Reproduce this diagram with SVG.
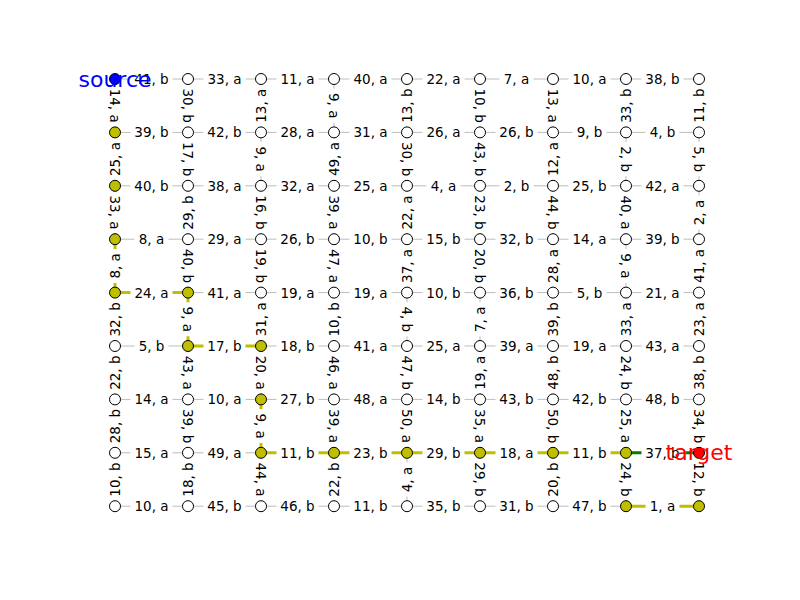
<svg xmlns="http://www.w3.org/2000/svg" xmlns:xlink="http://www.w3.org/1999/xlink" width="800" height="600" viewBox="0 0 800 600">
<style>
.e{stroke:#bdbdbd;stroke-width:1;fill:none}
.p{stroke:#bfbf00;stroke-width:3;fill:none}
.g{stroke:#008000;stroke-width:3;fill:none}
.lb{fill:#fff;stroke:none}
.l text{font-family:"DejaVu Sans",sans-serif;font-size:13.5px;fill:#000;text-anchor:middle;dominant-baseline:central}
.n circle{stroke:#000;stroke-width:1}
.w{fill:#fff}.y{fill:#bfbf00}
.st{font-family:"DejaVu Sans",sans-serif;font-size:22px;text-anchor:middle;dominant-baseline:central}
</style>
<defs>
<rect id="b2" class="lb" x="-21" y="-9.5" width="42" height="19" rx="4"/>
<rect id="b1" class="lb" x="-17" y="-9.5" width="34" height="19" rx="4"/>
</defs>
<g id="edges">
<g class="e">
<path d="M115 79H188M188 79H261M261 79H334M334 79H407M407 79H480M480 79H553M553 79H626M626 79H699"/>
<path d="M115 132.4H188M188 132.4H261M261 132.4H334M334 132.4H407M407 132.4H480M480 132.4H553M553 132.4H626M626 132.4H699"/>
<path d="M115 185.8H188M188 185.8H261M261 185.8H334M334 185.8H407M407 185.8H480M480 185.8H553M553 185.8H626M626 185.8H699"/>
<path d="M115 239.2H188M188 239.2H261M261 239.2H334M334 239.2H407M407 239.2H480M480 239.2H553M553 239.2H626M626 239.2H699"/>
<path d="M115 292.6H188M188 292.6H261M261 292.6H334M334 292.6H407M407 292.6H480M480 292.6H553M553 292.6H626M626 292.6H699"/>
<path d="M115 346H188M188 346H261M261 346H334M334 346H407M407 346H480M480 346H553M553 346H626M626 346H699"/>
<path d="M115 399.4H188M188 399.4H261M261 399.4H334M334 399.4H407M407 399.4H480M480 399.4H553M553 399.4H626M626 399.4H699"/>
<path d="M115 452.8H188M188 452.8H261M261 452.8H334M334 452.8H407M407 452.8H480M480 452.8H553M553 452.8H626M626 452.8H699"/>
<path d="M115 506.2H188M188 506.2H261M261 506.2H334M334 506.2H407M407 506.2H480M480 506.2H553M553 506.2H626M626 506.2H699"/>
<path d="M115 79V132.4M115 132.4V185.8M115 185.8V239.2M115 239.2V292.6M115 292.6V346M115 346V399.4M115 399.4V452.8M115 452.8V506.2"/>
<path d="M188 79V132.4M188 132.4V185.8M188 185.8V239.2M188 239.2V292.6M188 292.6V346M188 346V399.4M188 399.4V452.8M188 452.8V506.2"/>
<path d="M261 79V132.4M261 132.4V185.8M261 185.8V239.2M261 239.2V292.6M261 292.6V346M261 346V399.4M261 399.4V452.8M261 452.8V506.2"/>
<path d="M334 79V132.4M334 132.4V185.8M334 185.8V239.2M334 239.2V292.6M334 292.6V346M334 346V399.4M334 399.4V452.8M334 452.8V506.2"/>
<path d="M407 79V132.4M407 132.4V185.8M407 185.8V239.2M407 239.2V292.6M407 292.6V346M407 346V399.4M407 399.4V452.8M407 452.8V506.2"/>
<path d="M480 79V132.4M480 132.4V185.8M480 185.8V239.2M480 239.2V292.6M480 292.6V346M480 346V399.4M480 399.4V452.8M480 452.8V506.2"/>
<path d="M553 79V132.4M553 132.4V185.8M553 185.8V239.2M553 239.2V292.6M553 292.6V346M553 346V399.4M553 399.4V452.8M553 452.8V506.2"/>
<path d="M626 79V132.4M626 132.4V185.8M626 185.8V239.2M626 239.2V292.6M626 292.6V346M626 346V399.4M626 399.4V452.8M626 452.8V506.2"/>
<path d="M699 79V132.4M699 132.4V185.8M699 185.8V239.2M699 239.2V292.6M699 292.6V346M699 346V399.4M699 399.4V452.8M699 452.8V506.2"/>
</g>
<g class="p">
<path d="M115 79V132.4"/><path d="M115 132.4V185.8"/><path d="M115 185.8V239.2"/><path d="M115 239.2V292.6"/>
<path d="M115 292.6H188"/><path d="M188 292.6V346"/><path d="M188 346H261"/>
<path d="M261 346V399.4"/><path d="M261 399.4V452.8"/>
<path d="M261 452.8H334"/><path d="M334 452.8H407"/><path d="M407 452.8H480"/><path d="M480 452.8H553"/><path d="M553 452.8H626"/>
<path d="M626 452.8V506.2"/><path d="M626 506.2H699"/><path d="M699 506.2V452.8"/>
</g>
<path class="g" d="M626 452.8H699"/>
</g>
<g id="edge-labels" class="l">
<g transform="translate(151.5,79)"><use href="#b2"/><text>41, b</text></g>
<g transform="translate(224.5,79)"><use href="#b2"/><text>33, a</text></g>
<g transform="translate(297.5,79)"><use href="#b2"/><text>11, a</text></g>
<g transform="translate(370.5,79)"><use href="#b2"/><text>40, a</text></g>
<g transform="translate(443.5,79)"><use href="#b2"/><text>22, a</text></g>
<g transform="translate(516.5,79)"><use href="#b1"/><text>7, a</text></g>
<g transform="translate(589.5,79)"><use href="#b2"/><text>10, a</text></g>
<g transform="translate(662.5,79)"><use href="#b2"/><text>38, b</text></g>
<g transform="translate(151.5,132.4)"><use href="#b2"/><text>39, b</text></g>
<g transform="translate(224.5,132.4)"><use href="#b2"/><text>42, b</text></g>
<g transform="translate(297.5,132.4)"><use href="#b2"/><text>28, a</text></g>
<g transform="translate(370.5,132.4)"><use href="#b2"/><text>31, a</text></g>
<g transform="translate(443.5,132.4)"><use href="#b2"/><text>26, a</text></g>
<g transform="translate(516.5,132.4)"><use href="#b2"/><text>26, b</text></g>
<g transform="translate(589.5,132.4)"><use href="#b1"/><text>9, b</text></g>
<g transform="translate(662.5,132.4)"><use href="#b1"/><text>4, b</text></g>
<g transform="translate(151.5,185.8)"><use href="#b2"/><text>40, b</text></g>
<g transform="translate(224.5,185.8)"><use href="#b2"/><text>38, a</text></g>
<g transform="translate(297.5,185.8)"><use href="#b2"/><text>32, a</text></g>
<g transform="translate(370.5,185.8)"><use href="#b2"/><text>25, a</text></g>
<g transform="translate(443.5,185.8)"><use href="#b1"/><text>4, a</text></g>
<g transform="translate(516.5,185.8)"><use href="#b1"/><text>2, b</text></g>
<g transform="translate(589.5,185.8)"><use href="#b2"/><text>25, b</text></g>
<g transform="translate(662.5,185.8)"><use href="#b2"/><text>42, a</text></g>
<g transform="translate(151.5,239.2)"><use href="#b1"/><text>8, a</text></g>
<g transform="translate(224.5,239.2)"><use href="#b2"/><text>29, a</text></g>
<g transform="translate(297.5,239.2)"><use href="#b2"/><text>26, b</text></g>
<g transform="translate(370.5,239.2)"><use href="#b2"/><text>10, b</text></g>
<g transform="translate(443.5,239.2)"><use href="#b2"/><text>15, b</text></g>
<g transform="translate(516.5,239.2)"><use href="#b2"/><text>32, b</text></g>
<g transform="translate(589.5,239.2)"><use href="#b2"/><text>14, a</text></g>
<g transform="translate(662.5,239.2)"><use href="#b2"/><text>39, b</text></g>
<g transform="translate(151.5,292.6)"><use href="#b2"/><text>24, a</text></g>
<g transform="translate(224.5,292.6)"><use href="#b2"/><text>41, a</text></g>
<g transform="translate(297.5,292.6)"><use href="#b2"/><text>19, a</text></g>
<g transform="translate(370.5,292.6)"><use href="#b2"/><text>19, a</text></g>
<g transform="translate(443.5,292.6)"><use href="#b2"/><text>10, b</text></g>
<g transform="translate(516.5,292.6)"><use href="#b2"/><text>36, b</text></g>
<g transform="translate(589.5,292.6)"><use href="#b1"/><text>5, b</text></g>
<g transform="translate(662.5,292.6)"><use href="#b2"/><text>21, a</text></g>
<g transform="translate(151.5,346)"><use href="#b1"/><text>5, b</text></g>
<g transform="translate(224.5,346)"><use href="#b2"/><text>17, b</text></g>
<g transform="translate(297.5,346)"><use href="#b2"/><text>18, b</text></g>
<g transform="translate(370.5,346)"><use href="#b2"/><text>41, a</text></g>
<g transform="translate(443.5,346)"><use href="#b2"/><text>25, a</text></g>
<g transform="translate(516.5,346)"><use href="#b2"/><text>39, a</text></g>
<g transform="translate(589.5,346)"><use href="#b2"/><text>19, a</text></g>
<g transform="translate(662.5,346)"><use href="#b2"/><text>43, a</text></g>
<g transform="translate(151.5,399.4)"><use href="#b2"/><text>14, a</text></g>
<g transform="translate(224.5,399.4)"><use href="#b2"/><text>10, a</text></g>
<g transform="translate(297.5,399.4)"><use href="#b2"/><text>27, b</text></g>
<g transform="translate(370.5,399.4)"><use href="#b2"/><text>48, a</text></g>
<g transform="translate(443.5,399.4)"><use href="#b2"/><text>14, b</text></g>
<g transform="translate(516.5,399.4)"><use href="#b2"/><text>43, b</text></g>
<g transform="translate(589.5,399.4)"><use href="#b2"/><text>42, b</text></g>
<g transform="translate(662.5,399.4)"><use href="#b2"/><text>48, b</text></g>
<g transform="translate(151.5,452.8)"><use href="#b2"/><text>15, a</text></g>
<g transform="translate(224.5,452.8)"><use href="#b2"/><text>49, a</text></g>
<g transform="translate(297.5,452.8)"><use href="#b2"/><text>11, b</text></g>
<g transform="translate(370.5,452.8)"><use href="#b2"/><text>23, b</text></g>
<g transform="translate(443.5,452.8)"><use href="#b2"/><text>29, b</text></g>
<g transform="translate(516.5,452.8)"><use href="#b2"/><text>18, a</text></g>
<g transform="translate(589.5,452.8)"><use href="#b2"/><text>11, b</text></g>
<g transform="translate(662.5,452.8)"><use href="#b2"/><text>37, b</text></g>
<g transform="translate(151.5,506.2)"><use href="#b2"/><text>10, a</text></g>
<g transform="translate(224.5,506.2)"><use href="#b2"/><text>45, b</text></g>
<g transform="translate(297.5,506.2)"><use href="#b2"/><text>46, b</text></g>
<g transform="translate(370.5,506.2)"><use href="#b2"/><text>11, b</text></g>
<g transform="translate(443.5,506.2)"><use href="#b2"/><text>35, b</text></g>
<g transform="translate(516.5,506.2)"><use href="#b2"/><text>31, b</text></g>
<g transform="translate(589.5,506.2)"><use href="#b2"/><text>47, b</text></g>
<g transform="translate(662.5,506.2)"><use href="#b1"/><text>1, a</text></g>

<g transform="translate(115,105.7) rotate(90)"><use href="#b2"/><text>14, a</text></g>
<g transform="translate(115,159.1) rotate(-90)"><use href="#b2"/><text>25, a</text></g>
<g transform="translate(115,212.5) rotate(90)"><use href="#b2"/><text>33, a</text></g>
<g transform="translate(115,265.9) rotate(-90)"><use href="#b1"/><text>8, a</text></g>
<g transform="translate(115,319.3) rotate(-90)"><use href="#b2"/><text>32, b</text></g>
<g transform="translate(115,372.7) rotate(-90)"><use href="#b2"/><text>22, b</text></g>
<g transform="translate(115,426.1) rotate(-90)"><use href="#b2"/><text>28, b</text></g>
<g transform="translate(115,479.5) rotate(-90)"><use href="#b2"/><text>10, b</text></g>

<g transform="translate(188,105.7) rotate(90)"><use href="#b2"/><text>30, b</text></g>
<g transform="translate(188,159.1) rotate(90)"><use href="#b2"/><text>17, b</text></g>
<g transform="translate(188,212.5) rotate(-90)"><use href="#b2"/><text>29, b</text></g>
<g transform="translate(188,265.9) rotate(90)"><use href="#b2"/><text>40, b</text></g>
<g transform="translate(188,319.3) rotate(90)"><use href="#b1"/><text>9, a</text></g>
<g transform="translate(188,372.7) rotate(90)"><use href="#b2"/><text>43, a</text></g>
<g transform="translate(188,426.1) rotate(90)"><use href="#b2"/><text>39, b</text></g>
<g transform="translate(188,479.5) rotate(-90)"><use href="#b2"/><text>18, b</text></g>

<g transform="translate(261,105.7) rotate(-90)"><use href="#b2"/><text>13, a</text></g>
<g transform="translate(261,159.1) rotate(90)"><use href="#b1"/><text>9, a</text></g>
<g transform="translate(261,212.5) rotate(90)"><use href="#b2"/><text>16, b</text></g>
<g transform="translate(261,265.9) rotate(90)"><use href="#b2"/><text>19, b</text></g>
<g transform="translate(261,319.3) rotate(-90)"><use href="#b2"/><text>31, a</text></g>
<g transform="translate(261,372.7) rotate(90)"><use href="#b2"/><text>20, a</text></g>
<g transform="translate(261,426.1) rotate(90)"><use href="#b1"/><text>9, a</text></g>
<g transform="translate(261,479.5) rotate(90)"><use href="#b2"/><text>44, a</text></g>

<g transform="translate(334,105.7) rotate(90)"><use href="#b1"/><text>9, a</text></g>
<g transform="translate(334,159.1) rotate(-90)"><use href="#b2"/><text>49, a</text></g>
<g transform="translate(334,212.5) rotate(90)"><use href="#b2"/><text>39, a</text></g>
<g transform="translate(334,265.9) rotate(90)"><use href="#b2"/><text>47, a</text></g>
<g transform="translate(334,319.3) rotate(-90)"><use href="#b2"/><text>10, b</text></g>
<g transform="translate(334,372.7) rotate(90)"><use href="#b2"/><text>46, a</text></g>
<g transform="translate(334,426.1) rotate(90)"><use href="#b2"/><text>39, a</text></g>
<g transform="translate(334,479.5) rotate(-90)"><use href="#b2"/><text>22, b</text></g>

<g transform="translate(407,105.7) rotate(-90)"><use href="#b2"/><text>13, b</text></g>
<g transform="translate(407,159.1) rotate(90)"><use href="#b2"/><text>30, b</text></g>
<g transform="translate(407,212.5) rotate(-90)"><use href="#b2"/><text>22, a</text></g>
<g transform="translate(407,265.9) rotate(-90)"><use href="#b2"/><text>37, a</text></g>
<g transform="translate(407,319.3) rotate(90)"><use href="#b1"/><text>4, b</text></g>
<g transform="translate(407,372.7) rotate(90)"><use href="#b2"/><text>47, b</text></g>
<g transform="translate(407,426.1) rotate(90)"><use href="#b2"/><text>50, a</text></g>
<g transform="translate(407,479.5) rotate(-90)"><use href="#b1"/><text>4, a</text></g>

<g transform="translate(480,105.7) rotate(90)"><use href="#b2"/><text>10, b</text></g>
<g transform="translate(480,159.1) rotate(90)"><use href="#b2"/><text>43, b</text></g>
<g transform="translate(480,212.5) rotate(90)"><use href="#b2"/><text>23, b</text></g>
<g transform="translate(480,265.9) rotate(90)"><use href="#b2"/><text>20, b</text></g>
<g transform="translate(480,319.3) rotate(-90)"><use href="#b1"/><text>7, a</text></g>
<g transform="translate(480,372.7) rotate(-90)"><use href="#b2"/><text>19, a</text></g>
<g transform="translate(480,426.1) rotate(90)"><use href="#b2"/><text>35, a</text></g>
<g transform="translate(480,479.5) rotate(90)"><use href="#b2"/><text>29, b</text></g>

<g transform="translate(553,105.7) rotate(90)"><use href="#b2"/><text>13, a</text></g>
<g transform="translate(553,159.1) rotate(-90)"><use href="#b2"/><text>12, a</text></g>
<g transform="translate(553,212.5) rotate(90)"><use href="#b2"/><text>44, b</text></g>
<g transform="translate(553,265.9) rotate(-90)"><use href="#b2"/><text>28, a</text></g>
<g transform="translate(553,319.3) rotate(-90)"><use href="#b2"/><text>39, b</text></g>
<g transform="translate(553,372.7) rotate(-90)"><use href="#b2"/><text>48, b</text></g>
<g transform="translate(553,426.1) rotate(90)"><use href="#b2"/><text>50, b</text></g>
<g transform="translate(553,479.5) rotate(-90)"><use href="#b2"/><text>20, b</text></g>

<g transform="translate(626,105.7) rotate(-90)"><use href="#b2"/><text>33, b</text></g>
<g transform="translate(626,159.1) rotate(90)"><use href="#b1"/><text>2, b</text></g>
<g transform="translate(626,212.5) rotate(90)"><use href="#b2"/><text>40, a</text></g>
<g transform="translate(626,265.9) rotate(90)"><use href="#b1"/><text>9, a</text></g>
<g transform="translate(626,319.3) rotate(-90)"><use href="#b2"/><text>33, a</text></g>
<g transform="translate(626,372.7) rotate(90)"><use href="#b2"/><text>24, b</text></g>
<g transform="translate(626,426.1) rotate(90)"><use href="#b2"/><text>25, a</text></g>
<g transform="translate(626,479.5) rotate(90)"><use href="#b2"/><text>24, b</text></g>

<g transform="translate(699,105.7) rotate(-90)"><use href="#b2"/><text>11, b</text></g>
<g transform="translate(699,159.1) rotate(90)"><use href="#b1"/><text>5, b</text></g>
<g transform="translate(699,212.5) rotate(-90)"><use href="#b1"/><text>2, a</text></g>
<g transform="translate(699,265.9) rotate(-90)"><use href="#b2"/><text>41, a</text></g>
<g transform="translate(699,319.3) rotate(-90)"><use href="#b2"/><text>23, a</text></g>
<g transform="translate(699,372.7) rotate(-90)"><use href="#b2"/><text>38, b</text></g>
<g transform="translate(699,426.1) rotate(90)"><use href="#b2"/><text>34, b</text></g>
<g transform="translate(699,479.5) rotate(90)"><use href="#b2"/><text>12, b</text></g>
</g>
<g id="nodes" class="n">
<g id="n0_0"><circle cx="115" cy="79" r="5.5" fill="#0000ff" stroke="#0000ff"/></g>
<g id="n0_1"><circle class="w" cx="188" cy="79" r="5.5"/></g>
<g id="n0_2"><circle class="w" cx="261" cy="79" r="5.5"/></g>
<g id="n0_3"><circle class="w" cx="334" cy="79" r="5.5"/></g>
<g id="n0_4"><circle class="w" cx="407" cy="79" r="5.5"/></g>
<g id="n0_5"><circle class="w" cx="480" cy="79" r="5.5"/></g>
<g id="n0_6"><circle class="w" cx="553" cy="79" r="5.5"/></g>
<g id="n0_7"><circle class="w" cx="626" cy="79" r="5.5"/></g>
<g id="n0_8"><circle class="w" cx="699" cy="79" r="5.5"/></g>
<g id="n1_0"><circle class="y" cx="115" cy="132.4" r="5.5"/></g>
<g id="n1_1"><circle class="w" cx="188" cy="132.4" r="5.5"/></g>
<g id="n1_2"><circle class="w" cx="261" cy="132.4" r="5.5"/></g>
<g id="n1_3"><circle class="w" cx="334" cy="132.4" r="5.5"/></g>
<g id="n1_4"><circle class="w" cx="407" cy="132.4" r="5.5"/></g>
<g id="n1_5"><circle class="w" cx="480" cy="132.4" r="5.5"/></g>
<g id="n1_6"><circle class="w" cx="553" cy="132.4" r="5.5"/></g>
<g id="n1_7"><circle class="w" cx="626" cy="132.4" r="5.5"/></g>
<g id="n1_8"><circle class="w" cx="699" cy="132.4" r="5.5"/></g>
<g id="n2_0"><circle class="y" cx="115" cy="185.8" r="5.5"/></g>
<g id="n2_1"><circle class="w" cx="188" cy="185.8" r="5.5"/></g>
<g id="n2_2"><circle class="w" cx="261" cy="185.8" r="5.5"/></g>
<g id="n2_3"><circle class="w" cx="334" cy="185.8" r="5.5"/></g>
<g id="n2_4"><circle class="w" cx="407" cy="185.8" r="5.5"/></g>
<g id="n2_5"><circle class="w" cx="480" cy="185.8" r="5.5"/></g>
<g id="n2_6"><circle class="w" cx="553" cy="185.8" r="5.5"/></g>
<g id="n2_7"><circle class="w" cx="626" cy="185.8" r="5.5"/></g>
<g id="n2_8"><circle class="w" cx="699" cy="185.8" r="5.5"/></g>
<g id="n3_0"><circle class="y" cx="115" cy="239.2" r="5.5"/></g>
<g id="n3_1"><circle class="w" cx="188" cy="239.2" r="5.5"/></g>
<g id="n3_2"><circle class="w" cx="261" cy="239.2" r="5.5"/></g>
<g id="n3_3"><circle class="w" cx="334" cy="239.2" r="5.5"/></g>
<g id="n3_4"><circle class="w" cx="407" cy="239.2" r="5.5"/></g>
<g id="n3_5"><circle class="w" cx="480" cy="239.2" r="5.5"/></g>
<g id="n3_6"><circle class="w" cx="553" cy="239.2" r="5.5"/></g>
<g id="n3_7"><circle class="w" cx="626" cy="239.2" r="5.5"/></g>
<g id="n3_8"><circle class="w" cx="699" cy="239.2" r="5.5"/></g>
<g id="n4_0"><circle class="y" cx="115" cy="292.6" r="5.5"/></g>
<g id="n4_1"><circle class="y" cx="188" cy="292.6" r="5.5"/></g>
<g id="n4_2"><circle class="w" cx="261" cy="292.6" r="5.5"/></g>
<g id="n4_3"><circle class="w" cx="334" cy="292.6" r="5.5"/></g>
<g id="n4_4"><circle class="w" cx="407" cy="292.6" r="5.5"/></g>
<g id="n4_5"><circle class="w" cx="480" cy="292.6" r="5.5"/></g>
<g id="n4_6"><circle class="w" cx="553" cy="292.6" r="5.5"/></g>
<g id="n4_7"><circle class="w" cx="626" cy="292.6" r="5.5"/></g>
<g id="n4_8"><circle class="w" cx="699" cy="292.6" r="5.5"/></g>
<g id="n5_0"><circle class="w" cx="115" cy="346" r="5.5"/></g>
<g id="n5_1"><circle class="y" cx="188" cy="346" r="5.5"/></g>
<g id="n5_2"><circle class="y" cx="261" cy="346" r="5.5"/></g>
<g id="n5_3"><circle class="w" cx="334" cy="346" r="5.5"/></g>
<g id="n5_4"><circle class="w" cx="407" cy="346" r="5.5"/></g>
<g id="n5_5"><circle class="w" cx="480" cy="346" r="5.5"/></g>
<g id="n5_6"><circle class="w" cx="553" cy="346" r="5.5"/></g>
<g id="n5_7"><circle class="w" cx="626" cy="346" r="5.5"/></g>
<g id="n5_8"><circle class="w" cx="699" cy="346" r="5.5"/></g>
<g id="n6_0"><circle class="w" cx="115" cy="399.4" r="5.5"/></g>
<g id="n6_1"><circle class="w" cx="188" cy="399.4" r="5.5"/></g>
<g id="n6_2"><circle class="y" cx="261" cy="399.4" r="5.5"/></g>
<g id="n6_3"><circle class="w" cx="334" cy="399.4" r="5.5"/></g>
<g id="n6_4"><circle class="w" cx="407" cy="399.4" r="5.5"/></g>
<g id="n6_5"><circle class="w" cx="480" cy="399.4" r="5.5"/></g>
<g id="n6_6"><circle class="w" cx="553" cy="399.4" r="5.5"/></g>
<g id="n6_7"><circle class="w" cx="626" cy="399.4" r="5.5"/></g>
<g id="n6_8"><circle class="w" cx="699" cy="399.4" r="5.5"/></g>
<g id="n7_0"><circle class="w" cx="115" cy="452.8" r="5.5"/></g>
<g id="n7_1"><circle class="w" cx="188" cy="452.8" r="5.5"/></g>
<g id="n7_2"><circle class="y" cx="261" cy="452.8" r="5.5"/></g>
<g id="n7_3"><circle class="y" cx="334" cy="452.8" r="5.5"/></g>
<g id="n7_4"><circle class="y" cx="407" cy="452.8" r="5.5"/></g>
<g id="n7_5"><circle class="y" cx="480" cy="452.8" r="5.5"/></g>
<g id="n7_6"><circle class="y" cx="553" cy="452.8" r="5.5"/></g>
<g id="n7_7"><circle class="y" cx="626" cy="452.8" r="5.5"/></g>
<g id="n7_8"><circle cx="699" cy="452.8" r="5.5" fill="#ff0000" stroke="#ff0000"/></g>
<g id="n8_0"><circle class="w" cx="115" cy="506.2" r="5.5"/></g>
<g id="n8_1"><circle class="w" cx="188" cy="506.2" r="5.5"/></g>
<g id="n8_2"><circle class="w" cx="261" cy="506.2" r="5.5"/></g>
<g id="n8_3"><circle class="w" cx="334" cy="506.2" r="5.5"/></g>
<g id="n8_4"><circle class="w" cx="407" cy="506.2" r="5.5"/></g>
<g id="n8_5"><circle class="w" cx="480" cy="506.2" r="5.5"/></g>
<g id="n8_6"><circle class="w" cx="553" cy="506.2" r="5.5"/></g>
<g id="n8_7"><circle class="y" cx="626" cy="506.2" r="5.5"/></g>
<g id="n8_8"><circle class="y" cx="699" cy="506.2" r="5.5"/></g>
</g>
<g id="terminals">
<text class="st" x="115" y="79" fill="#0000ff">source</text>
<text class="st" x="699" y="452.8" fill="#ff0000">target</text>
</g>
</svg>
